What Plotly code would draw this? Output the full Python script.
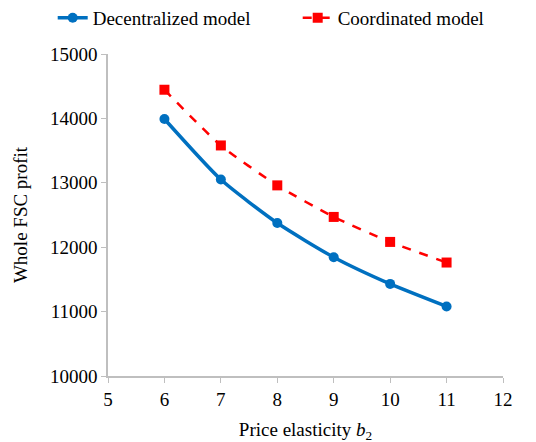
import plotly.graph_objects as go

elasticity = [6, 7, 8, 9, 10, 11]
decentralized = [13990, 13050, 12375, 11845, 11430, 11080]
coordinated = [14445, 13580, 12960, 12470, 12082, 11762]

font_family = "Liberation Serif, Times New Roman, serif"

fig = go.Figure()
fig.add_trace(go.Scatter(
    x=elasticity, y=decentralized, name="Decentralized model",
    mode="lines+markers",
    line=dict(color="#0070C0", width=3.5, shape="spline", smoothing=0.6),
    marker=dict(symbol="circle", size=10, color="#0070C0"),
))
fig.add_trace(go.Scatter(
    x=elasticity, y=coordinated, name="Coordinated model",
    mode="lines+markers",
    line=dict(color="#FF0000", width=2.5, dash="dash", shape="spline", smoothing=0.6),
    marker=dict(symbol="square", size=10, color="#FF0000"),
))

fig.update_layout(
    width=536, height=442,
    margin=dict(l=100, r=41, t=46, b=74, autoexpand=False),
    paper_bgcolor="white", plot_bgcolor="white",
    font=dict(family=font_family, size=19, color="#000000"),
    legend=dict(orientation="h", x=-0.14, xanchor="left", y=1.112, yanchor="middle",
                font=dict(size=19), itemwidth=30, tracegroupgap=0,
                entrywidth=200, entrywidthmode="pixels"),
    showlegend=True,
)
fig.update_xaxes(
    range=[5, 12], dtick=1, tick0=5, showgrid=False, zeroline=False,
    showline=True, linecolor="#BFBFBF", linewidth=1.5, automargin=False,
    ticks="outside", ticklen=5, tickcolor="#BFBFBF",
    tickfont=dict(size=19),
    title=dict(text="Price elasticity <i>b</i><sub>2</sub>", font=dict(size=19), standoff=14),
)
fig.update_yaxes(
    range=[10000, 15000], dtick=1000, tickformat="d", showgrid=False, zeroline=False,
    showline=True, linecolor="#BFBFBF", linewidth=1.5, automargin=False,
    ticks="outside", ticklen=5, tickcolor="#BFBFBF",
    tickfont=dict(size=19),
    title=dict(text="Whole FSC profit", font=dict(size=19), standoff=17),
)

fig.write_html("out.html")
